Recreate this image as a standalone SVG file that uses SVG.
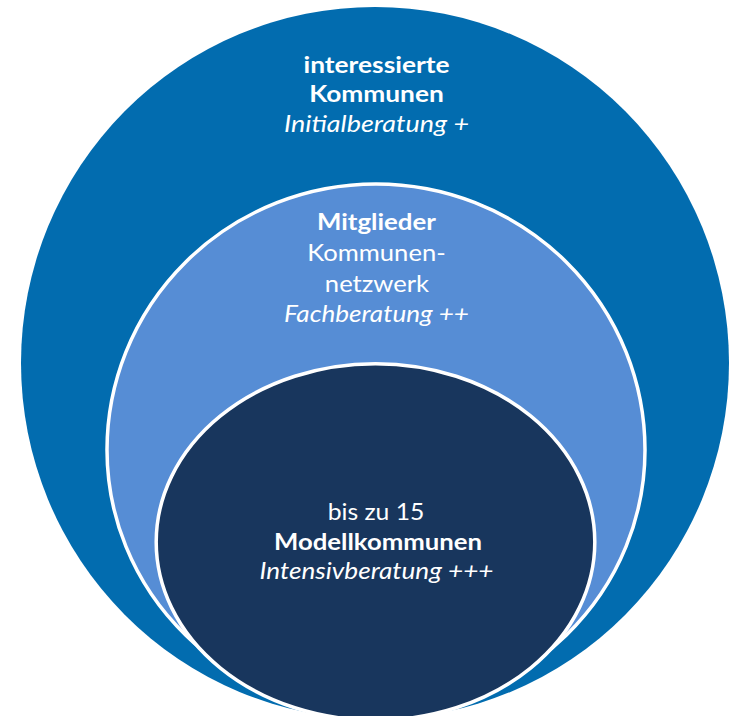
<svg xmlns="http://www.w3.org/2000/svg" width="732" height="716" viewBox="0 0 732 716">
<style>
.t{font-family:Lato,"Liberation Sans",sans-serif;font-size:23px;fill:#ffffff;text-anchor:middle}
.b{font-weight:bold}
.i{font-style:italic}
.ring{stroke:#ffffff;stroke-width:3.5}
</style>
<rect x="0" y="0" width="732" height="716" fill="#ffffff"/>
<g id="outer">
<ellipse cx="375" cy="363" rx="354" ry="356" fill="#026CAF"/>
<text class="t b" x="376.5" y="72.5" textLength="146" lengthAdjust="spacingAndGlyphs">interessierte</text>
<text class="t b" x="376.5" y="102" textLength="134.6" lengthAdjust="spacingAndGlyphs">Kommunen</text>
<text class="t i" x="376.5" y="132" textLength="185" lengthAdjust="spacingAndGlyphs">Initialberatung +</text>
</g>
<g id="middle">
<path class="ring" d="M107,450 A269,266 0 0 1 645,450 A269,262 0 0 1 107,450 Z" fill="#568DD5"/>
<text class="t b" x="376.5" y="230" textLength="119" lengthAdjust="spacingAndGlyphs">Mitglieder</text>
<text class="t" x="376.5" y="261" textLength="138.3" lengthAdjust="spacingAndGlyphs">Kommunen-</text>
<text class="t" x="377" y="291.7" textLength="104.3" lengthAdjust="spacingAndGlyphs">netzwerk</text>
<text class="t i" x="376.5" y="322.3" textLength="185" lengthAdjust="spacingAndGlyphs">Fachberatung ++</text>
</g>
<g id="inner">
<ellipse class="ring" cx="375.5" cy="542" rx="219.3" ry="178.3" fill="#18365D"/>
<text class="t" x="376" y="520" textLength="96.7" lengthAdjust="spacingAndGlyphs">bis zu 15</text>
<text class="t b" x="378" y="550" textLength="208" lengthAdjust="spacingAndGlyphs">Modellkommunen</text>
<text class="t i" x="376.5" y="579" textLength="234" lengthAdjust="spacingAndGlyphs">Intensivberatung +++</text>
</g>
<g id="connectors"/>
</svg>
